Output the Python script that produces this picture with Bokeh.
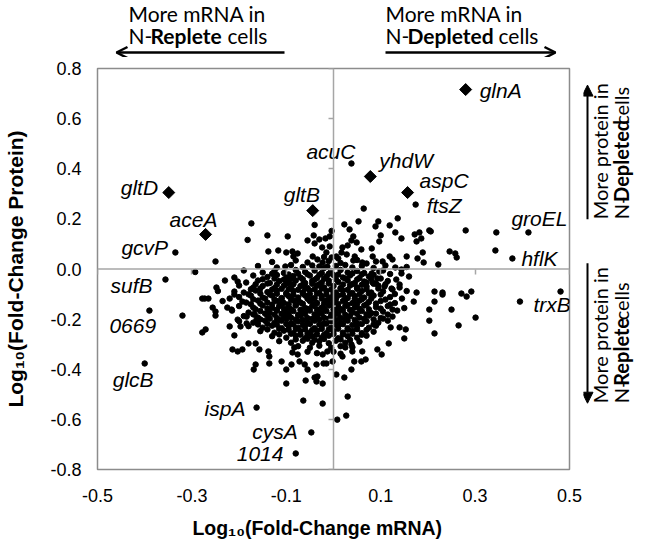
import numpy as np
from bokeh.plotting import figure
from bokeh.layouts import column, row
from bokeh.models import (ColumnDataSource, Span, Label, Arrow, OpenHead, NormalHead,
                          LinearAxis, FixedTicker, NumeralTickFormatter, Range1d)
from bokeh.core.properties import value
from bokeh.embed import file_html
from bokeh.resources import INLINE

# ---------------- data ----------------
x_ticks = [-0.5, -0.3, -0.1, 0.1, 0.3, 0.5]
y_ticks = [-0.8, -0.6, -0.4, -0.2, 0.0, 0.2, 0.4, 0.6, 0.8]

# highlighted genes (diamonds)
dia_gene = ["glnA", "yhdW", "aspC", "gltB", "gltD", "aceA"]
dia_x = [0.280, 0.078, 0.157, -0.044, -0.349, -0.271]
dia_y = [0.716, 0.369, 0.305, 0.233, 0.305, 0.138]

# labelled genes drawn as ordinary dots
lab_gene = ["acuC", "ftsZ", "groEL", "hflK", "gcvP", "sufB", "0669", "glcB",
            "ispA", "cysA", "1014", "trxB"]
lab_x = [0.038, 0.174, 0.413, 0.379, -0.335, -0.356, -0.390, -0.400,
         -0.163, -0.047, -0.080, 0.481]
lab_y = [0.421, 0.257, 0.146, 0.042, 0.066, -0.042, -0.166, -0.377,
         -0.553, -0.652, -0.736, -0.090]

upper_left_pts = [
    (-0.174, 0.182), (-0.182, 0.116), (-0.140, 0.134), (-0.097, 0.130), (-0.040, 0.176),
    (-0.055, 0.114), (-0.042, 0.134), (-0.040, 0.102), (-0.030, 0.118), (-0.017, 0.122),
    (-0.008, 0.130), (-0.004, 0.152), (-0.138, 0.070), (-0.117, 0.074), (-0.100, 0.066),
    (-0.087, 0.070), (-0.076, 0.062), (-0.085, 0.050), (-0.250, 0.030), (-0.293, -0.012),
    (-0.102, 0.010), (-0.044, 0.050), (-0.034, 0.038), (-0.023, 0.026), (-0.013, 0.010),
    (-0.030, 0.010), (-0.015, 0.066), (-0.004, 0.046), (-0.024, 0.086), (-0.008, 0.090),
    (-0.203, -0.050), (-0.248, -0.074), (-0.210, -0.090), (-0.220, -0.118), (-0.273, -0.118),
]
upper_right_pts = [
    (0.064, 0.241), (0.023, 0.178), (0.053, 0.190), (0.089, 0.170), (0.095, 0.190),
    (0.119, 0.174), (0.136, 0.202), (0.182, 0.146), (0.203, 0.154), (0.206, 0.150),
    (0.280, 0.154), (0.345, 0.146), (0.172, 0.138), (0.176, 0.110), (0.186, 0.122),
    (0.144, 0.122), (0.131, 0.146), (0.100, 0.134), (0.097, 0.110), (0.034, 0.158),
    (0.038, 0.114), (0.049, 0.106), (0.042, 0.130), (0.019, 0.086), (0.006, 0.050),
    (0.017, 0.066), (0.028, 0.058), (0.030, 0.094), (0.059, 0.078), (0.081, 0.082),
    (0.083, 0.050), (0.061, 0.026), (0.042, 0.034), (0.104, 0.030), (0.119, 0.050),
    (0.125, 0.038), (0.155, 0.050), (0.178, 0.042), (0.189, 0.066), (0.191, 0.026),
    (0.222, 0.018), (0.246, 0.070), (0.258, 0.062), (0.261, 0.046), (0.343, 0.074),
    (0.131, 0.006), (0.144, -0.002), (0.144, -0.018), (0.133, -0.042), (0.140, -0.062),
    (0.097, -0.010), (0.093, -0.038), (0.081, -0.018), (0.083, -0.054), (0.070, -0.054),
    (0.108, -0.070), (0.123, -0.078), (0.176, -0.094), (0.214, -0.090), (0.231, -0.094),
    (0.271, -0.098), (0.292, -0.090), (0.282, -0.110),
]
lower_right_pts = [
    (0.203, -0.162), (0.250, -0.162), (0.301, -0.194), (0.265, -0.225), (0.214, -0.257),
    (0.203, -0.206), (0.214, -0.130), (0.231, -0.102), (0.395, -0.130),
    (0.117, -0.297), (0.102, -0.341), (0.093, -0.321), (0.150, -0.277), (0.153, -0.241),
    (0.140, -0.233), (0.121, -0.233), (0.061, -0.329), (0.068, -0.361), (0.059, -0.369),
    (0.044, -0.369), (0.038, -0.401), (0.023, -0.433), (0.006, -0.421), (-0.002, -0.369),
    (0.019, -0.349), (0.025, -0.313), (0.038, -0.301), (0.040, -0.329),
]
lower_left_pts = [
    (-0.320, -0.186), (-0.278, -0.118), (-0.265, -0.118), (-0.256, -0.154), (-0.250, -0.170),
    (-0.250, -0.186), (-0.278, -0.253), (-0.271, -0.241), (-0.225, -0.154), (-0.216, -0.162),
    (-0.193, -0.130), (-0.210, -0.102), (-0.220, -0.229), (-0.197, -0.229), (-0.184, -0.217),
    (-0.184, -0.190), (-0.203, -0.202), (-0.163, -0.202), (-0.161, -0.209), (-0.167, -0.182),
    (-0.210, -0.265), (-0.214, -0.321), (-0.203, -0.329), (-0.193, -0.321), (-0.180, -0.297),
    (-0.165, -0.297), (-0.157, -0.321), (-0.138, -0.329), (-0.136, -0.349), (-0.136, -0.377),
    (-0.165, -0.381), (-0.169, -0.401), (-0.110, -0.369), (-0.100, -0.401), (-0.089, -0.381),
    (-0.072, -0.369), (-0.061, -0.381), (-0.055, -0.401), (-0.036, -0.381), (-0.034, -0.429),
    (-0.021, -0.377), (-0.015, -0.377), (-0.023, -0.341), (-0.013, -0.329), (-0.100, -0.457),
    (-0.059, -0.445), (-0.040, -0.433), (-0.036, -0.449), (-0.023, -0.457), (-0.087, -0.333),
    (-0.076, -0.341), (-0.083, -0.313), (-0.064, -0.525), (-0.023, -0.537), (0.030, -0.509),
    (0.027, -0.585), (0.008, -0.601),
]
core_pts = [
    (-0.02, 0.048), (0.01, 0.042), (0.045, 0.050),
    (-0.13, 0.028), (-0.08, 0.034), (-0.055, 0.026), (-0.01, 0.032), (0.015, 0.024), (0.05, 0.036),
    (0.07, 0.022), (0.09, 0.030),
    (-0.16, 0.012), (-0.12, 0.006), (-0.09, 0.016), (-0.065, 0.008), (-0.045, 0.014), (-0.02, 0.004),
    (0.005, 0.012), (0.025, 0.016), (0.04, 0.006), (0.06, 0.012), (0.085, 0.004), (0.11, 0.014),
    (0.155, 0.008),
    (-0.19, -0.006), (-0.15, -0.014), (-0.125, -0.008), (-0.105, -0.016), (-0.08, -0.004),
    (-0.06, -0.012), (-0.04, -0.006), (-0.025, -0.016), (-0.005, -0.008), (0.015, -0.004),
    (0.03, -0.014), (0.05, -0.008), (0.065, -0.016), (0.105, -0.006), (0.12, -0.020),
    (-0.21, -0.034), (-0.17, -0.026), (-0.14, -0.032), (-0.12, -0.024), (-0.10, -0.036),
    (-0.085, -0.028), (-0.07, -0.034), (-0.05, -0.026), (-0.035, -0.036), (-0.015, -0.030),
    (0.0, -0.024), (0.02, -0.034), (0.035, -0.026), (0.055, -0.036), (0.075, -0.030),
    (0.10, -0.038), (0.16, -0.030),
    (-0.23, -0.046), (-0.185, -0.054), (-0.16, -0.046), (-0.135, -0.056), (-0.115, -0.048),
    (-0.095, -0.054), (-0.08, -0.046), (-0.06, -0.056), (-0.045, -0.048), (-0.025, -0.054),
    (-0.01, -0.046), (0.01, -0.052), (0.03, -0.046), (0.045, -0.056), (0.065, -0.050),
    (0.09, -0.058), (0.115, -0.048),
    (-0.20, -0.066), (-0.17, -0.074), (-0.15, -0.068), (-0.125, -0.076), (-0.105, -0.066),
    (-0.09, -0.074), (-0.07, -0.068), (-0.055, -0.076), (-0.035, -0.066), (-0.02, -0.074),
    (0.0, -0.068), (0.015, -0.076), (0.035, -0.066), (0.05, -0.074), (0.07, -0.070),
    (0.095, -0.066), (0.14, -0.074),
    (-0.245, -0.088), (-0.19, -0.094), (-0.165, -0.086), (-0.14, -0.092), (-0.12, -0.086),
    (-0.10, -0.096), (-0.085, -0.088), (-0.065, -0.094), (-0.05, -0.086), (-0.03, -0.096),
    (-0.015, -0.088), (0.005, -0.094), (0.02, -0.086), (0.04, -0.096), (0.06, -0.088),
    (0.08, -0.094), (0.105, -0.090), (0.155, -0.088),
    (-0.20, -0.112), (-0.175, -0.106), (-0.15, -0.114), (-0.13, -0.106), (-0.11, -0.116),
    (-0.095, -0.108), (-0.075, -0.114), (-0.06, -0.106), (-0.04, -0.116), (-0.025, -0.108),
    (-0.005, -0.114), (0.01, -0.106), (0.03, -0.116), (0.045, -0.108), (0.065, -0.114),
    (0.085, -0.106), (0.12, -0.112), (0.145, -0.118),
    (-0.235, -0.128), (-0.185, -0.134), (-0.16, -0.126), (-0.14, -0.134), (-0.12, -0.128),
    (-0.105, -0.136), (-0.085, -0.126), (-0.07, -0.134), (-0.05, -0.128), (-0.035, -0.136),
    (-0.015, -0.126), (0.0, -0.134), (0.02, -0.128), (0.04, -0.136), (0.055, -0.126),
    (0.075, -0.132), (0.10, -0.128), (0.13, -0.136), (0.17, -0.130),
    (-0.20, -0.148), (-0.17, -0.154), (-0.15, -0.146), (-0.13, -0.156), (-0.115, -0.148),
    (-0.095, -0.154), (-0.08, -0.146), (-0.06, -0.156), (-0.045, -0.148), (-0.025, -0.154),
    (-0.01, -0.146), (0.01, -0.156), (0.025, -0.148), (0.045, -0.154), (0.065, -0.146),
    (0.09, -0.152), (0.115, -0.148), (0.15, -0.156),
    (-0.215, -0.166), (-0.18, -0.174), (-0.155, -0.168), (-0.135, -0.176), (-0.12, -0.166),
    (-0.10, -0.174), (-0.085, -0.168), (-0.065, -0.176), (-0.05, -0.166), (-0.03, -0.174),
    (-0.015, -0.168), (0.005, -0.176), (0.02, -0.166), (0.04, -0.174), (0.06, -0.168),
    (0.08, -0.176), (0.105, -0.170), (0.135, -0.166),
    (-0.19, -0.188), (-0.16, -0.194), (-0.14, -0.186), (-0.12, -0.196), (-0.105, -0.188),
    (-0.09, -0.194), (-0.07, -0.186), (-0.055, -0.196), (-0.035, -0.188), (-0.02, -0.194),
    (0.0, -0.186), (0.015, -0.196), (0.035, -0.188), (0.055, -0.194), (0.075, -0.186),
    (0.10, -0.196), (0.125, -0.190),
    (-0.20, -0.208), (-0.17, -0.214), (-0.145, -0.206), (-0.125, -0.214), (-0.11, -0.206),
    (-0.09, -0.216), (-0.075, -0.208), (-0.055, -0.214), (-0.04, -0.206), (-0.02, -0.216),
    (-0.005, -0.208), (0.015, -0.214), (0.03, -0.206), (0.05, -0.216), (0.07, -0.208),
    (0.095, -0.214), (0.115, -0.206),
    (-0.18, -0.228), (-0.15, -0.234), (-0.13, -0.226), (-0.11, -0.236), (-0.095, -0.228),
    (-0.075, -0.234), (-0.06, -0.226), (-0.04, -0.236), (-0.025, -0.228), (-0.005, -0.234),
    (0.01, -0.226), (0.03, -0.236), (0.05, -0.228), (0.075, -0.234), (0.09, -0.226),
    (-0.155, -0.248), (-0.125, -0.254), (-0.105, -0.246), (-0.085, -0.256), (-0.07, -0.248),
    (-0.05, -0.254), (-0.035, -0.246), (-0.015, -0.256), (0.0, -0.248), (0.02, -0.254),
    (0.04, -0.246), (0.06, -0.256), (0.085, -0.250),
    (-0.13, -0.268), (-0.10, -0.274), (-0.08, -0.266), (-0.06, -0.276), (-0.045, -0.268),
    (-0.025, -0.274), (-0.01, -0.266), (0.01, -0.276), (0.03, -0.268), (0.05, -0.274),
    (0.07, -0.266),
    (-0.115, -0.288), (-0.09, -0.294), (-0.065, -0.286), (-0.045, -0.294), (-0.03, -0.288),
    (-0.01, -0.296), (0.005, -0.286), (0.025, -0.294), (0.055, -0.290),
    (-0.075, -0.308), (-0.05, -0.314), (-0.03, -0.306), (-0.005, -0.314), (0.015, -0.308),
    (0.04, -0.312),
    (-0.055, -0.330), (-0.035, -0.336), (0.0, -0.330), (0.015, -0.338),
]
core_dense_pts = [
    (-0.13, -0.019), (-0.095, -0.022), (-0.075, -0.018), (-0.055, -0.021), (-0.03, -0.023),
    (-0.01, -0.019), (0.01, -0.022), (0.04, -0.018), (0.06, -0.021), (0.085, -0.023),
    (-0.15, -0.041), (-0.125, -0.038), (-0.105, -0.042), (-0.09, -0.039), (-0.065, -0.041),
    (-0.04, -0.043), (-0.02, -0.039), (0.005, -0.041), (0.025, -0.038), (0.05, -0.042),
    (0.08, -0.040),
    (-0.165, -0.061), (-0.14, -0.058), (-0.12, -0.062), (-0.10, -0.059), (-0.085, -0.061),
    (-0.065, -0.063), (-0.045, -0.059), (-0.03, -0.061), (-0.01, -0.058), (0.02, -0.062),
    (0.04, -0.060), (0.06, -0.063), (0.085, -0.059), (0.11, -0.061),
    (-0.175, -0.081), (-0.155, -0.078), (-0.13, -0.082), (-0.11, -0.079), (-0.095, -0.081),
    (-0.075, -0.083), (-0.06, -0.079), (-0.04, -0.081), (-0.025, -0.078), (-0.005, -0.082),
    (0.015, -0.080), (0.03, -0.083), (0.05, -0.079), (0.07, -0.081), (0.095, -0.078),
    (0.125, -0.082),
    (-0.18, -0.101), (-0.155, -0.098), (-0.135, -0.102), (-0.12, -0.099), (-0.10, -0.101),
    (-0.085, -0.103), (-0.065, -0.099), (-0.05, -0.101), (-0.035, -0.098), (-0.015, -0.102),
    (0.0, -0.100), (0.02, -0.103), (0.035, -0.099), (0.055, -0.101), (0.075, -0.098),
    (0.10, -0.102), (0.13, -0.100),
    (-0.17, -0.121), (-0.145, -0.118), (-0.125, -0.122), (-0.11, -0.119), (-0.09, -0.121),
    (-0.075, -0.123), (-0.055, -0.119), (-0.045, -0.121), (-0.025, -0.118), (-0.01, -0.122),
    (0.005, -0.120), (0.025, -0.123), (0.045, -0.119), (0.06, -0.121), (0.08, -0.118),
    (0.11, -0.122),
    (-0.175, -0.141), (-0.155, -0.138), (-0.13, -0.142), (-0.11, -0.139), (-0.095, -0.141),
    (-0.08, -0.143), (-0.065, -0.139), (-0.04, -0.141), (-0.02, -0.138), (-0.005, -0.142),
    (0.01, -0.140), (0.03, -0.143), (0.05, -0.139), (0.07, -0.141), (0.09, -0.138),
    (0.12, -0.142),
    (-0.165, -0.161), (-0.14, -0.158), (-0.12, -0.162), (-0.105, -0.159), (-0.09, -0.161),
    (-0.07, -0.163), (-0.055, -0.159), (-0.035, -0.161), (-0.02, -0.158), (0.0, -0.162),
    (0.015, -0.160), (0.035, -0.163), (0.055, -0.159), (0.075, -0.161), (0.10, -0.158),
    (0.125, -0.162),
    (-0.17, -0.181), (-0.145, -0.178), (-0.125, -0.182), (-0.11, -0.179), (-0.095, -0.181),
    (-0.075, -0.183), (-0.06, -0.179), (-0.04, -0.181), (-0.025, -0.178), (-0.005, -0.182),
    (0.01, -0.180), (0.025, -0.183), (0.05, -0.179), (0.07, -0.181), (0.09, -0.178),
    (0.115, -0.182),
    (-0.155, -0.201), (-0.135, -0.198), (-0.115, -0.202), (-0.10, -0.199), (-0.08, -0.201),
    (-0.065, -0.203), (-0.045, -0.199), (-0.03, -0.201), (-0.01, -0.198), (0.005, -0.202),
    (0.025, -0.200), (0.045, -0.203), (0.065, -0.199), (0.085, -0.201), (0.105, -0.198),
    (-0.16, -0.221), (-0.14, -0.218), (-0.12, -0.222), (-0.10, -0.219), (-0.085, -0.221),
    (-0.065, -0.223), (-0.05, -0.219), (-0.03, -0.221), (-0.015, -0.218), (0.005, -0.222),
    (0.02, -0.220), (0.04, -0.223), (0.06, -0.219), (0.085, -0.221),
    (-0.14, -0.241), (-0.115, -0.238), (-0.095, -0.242), (-0.08, -0.239), (-0.06, -0.241),
    (-0.045, -0.243), (-0.025, -0.239), (-0.01, -0.241), (0.01, -0.238), (0.03, -0.242),
    (0.05, -0.240), (0.07, -0.243),
    (-0.115, -0.261), (-0.09, -0.258), (-0.07, -0.262), (-0.055, -0.259), (-0.035, -0.261),
    (-0.02, -0.263), (0.0, -0.259), (0.02, -0.261), (0.04, -0.258), (0.06, -0.262),
    (-0.08, -0.281), (-0.055, -0.278), (-0.04, -0.282), (-0.02, -0.279), (0.015, -0.281),
    (0.035, -0.283),
]

# ---------------- layout constants ----------------
XR, YR = (-0.5, 0.5), (-0.8, 0.8)
FW, FH = 472, 401
OFF = 1               # picture offset of the layout origin
TOP_H = 57            # band with the horizontal arrows
MAIN_W = 583
RIGHT_W = 634 - MAIN_W
MAIN_H = 541 - TOP_H
BL, BT = 97, 11       # main-frame left / top borders
AX_FONT = "Liberation Sans"
ANN_FONT = "Lato"
GRAY = "#8c8c8c"
ZERO = "#a6a6a6"

p = figure(width=MAIN_W, height=MAIN_H, x_range=Range1d(*XR), y_range=Range1d(*YR),
           output_backend="svg", toolbar_location=None,
           min_border_left=BL, min_border_top=BT, min_border_right=MAIN_W - BL - FW,
           min_border_bottom=MAIN_H - BT - FH,
           background_fill_color="white", border_fill_color="white")
p.grid.visible = False
p.outline_line_color = GRAY
p.outline_line_width = 1.5

for ax in (p.xaxis[0], p.yaxis[0]):
    ax.axis_line_color = None
    ax.major_tick_line_color = None
    ax.minor_tick_line_color = None
    ax.major_tick_in = 0
    ax.major_tick_out = 0
    ax.major_label_text_font = AX_FONT
    ax.major_label_text_font_size = "18px"
    ax.major_label_text_color = "black"
    ax.axis_label_text_font = AX_FONT
    ax.axis_label_text_font_style = "bold"
    ax.axis_label_text_color = "black"
    ax.formatter = NumeralTickFormatter(format="0.0")

p.xaxis.ticker = FixedTicker(ticks=x_ticks)
p.yaxis.ticker = FixedTicker(ticks=y_ticks)
p.xaxis.axis_label = "Log\u2081\u2080(Fold-Change mRNA)" + "\u00a0" * 6
p.yaxis.axis_label = "Log\u2081\u2080(Fold-Change Protein)"
p.xaxis.axis_label_text_font_size = "19.5px"
p.yaxis.axis_label_text_font_size = "21px"
p.xaxis.major_label_standoff = 19
p.yaxis.major_label_standoff = 16
p.xaxis.axis_label_standoff = 12
p.yaxis.axis_label_standoff = 20

# zero lines with tick marks (axes pinned at 0, labels blanked)
p.add_layout(Span(location=0, dimension="height", line_color=ZERO, line_width=1.5))
p.add_layout(Span(location=0, dimension="width", line_color=ZERO, line_width=1.5))
for ticks, side in ((x_ticks, "below"), (y_ticks, "left")):
    a = LinearAxis(fixed_location=0, ticker=FixedTicker(ticks=ticks),
                   major_label_overrides={t: "" for t in ticks}, axis_line_color=None,
                   major_tick_line_color=ZERO, major_tick_line_width=1.5,
                   major_tick_in=0, major_tick_out=5, minor_tick_line_color=None)
    p.add_layout(a, side)

all_pts = (core_pts + core_dense_pts + upper_left_pts + upper_right_pts
           + lower_right_pts + lower_left_pts)
dots = ColumnDataSource(dict(x=[q[0] for q in all_pts], y=[q[1] for q in all_pts]))
p.scatter("x", "y", source=dots, size=5.5, color="black")

lab_dx = [-45, 11, -17, 9, -54, -55, -40, -32, -52, -59, -59, -27]
lab_dy = [-12, 1, -14, 0, -5, 6, 15, 16, 1, -1, 1, 13]
lab_src = ColumnDataSource(dict(x=lab_x, y=lab_y, gene=lab_gene, dx=lab_dx, dy=lab_dy))
p.scatter("x", "y", source=lab_src, size=5.5, color="black")

dia_dx = [14, 9, 12, -29, -48, -36]
dia_dy = [1, -16, -12, -16, -5, -15]
dia_src = ColumnDataSource(dict(x=dia_x, y=dia_y, gene=dia_gene, dx=dia_dx, dy=dia_dy))
p.scatter("x", "y", source=dia_src, marker="square", angle=np.pi / 4, size=8.5,
          color="black")

for src in (lab_src, dia_src):
    p.text("x", "y", text="gene", source=src, x_offset="dx", y_offset="dy",
           text_font=value(AX_FONT), text_font_style="italic", text_font_size="21px",
           text_align="left", text_baseline="middle", text_color="black")


# ---------------- annotation bands (coordinates = picture pixels, y negated) ----------------
def band(w, h, x0, y0):
    f = figure(width=w, height=h, x_range=Range1d(x0, x0 + w), y_range=Range1d(-(y0 + h), -y0),
               output_backend="svg", toolbar_location=None, min_border=0,
               x_axis_type=None, y_axis_type=None)
    f.grid.visible = False
    f.outline_line_color = None
    return f


top = band(634, TOP_H, OFF, OFF)
right = band(RIGHT_W, MAIN_H, OFF + MAIN_W, OFF + TOP_H)


def lab(fig, x, y, t, bold=False, angle=0, size="21px"):
    fig.add_layout(Label(x=x, y=-y, text=t, text_font=ANN_FONT, text_font_size=size,
                         text_font_style="bold" if bold else "normal",
                         text_align="left", text_baseline="middle", text_color="black",
                         angle=angle, angle_units="deg"))


L1, L2, AY = 14, 36, 53
lab(top, 129, L1, "More mRNA in")
lab(top, 129, L2, "N-")
lab(top, 151, L2, "Replete", bold=True)
lab(top, 228, L2, "cells")
lab(top, 386, L1, "More mRNA in")
lab(top, 386, L2, "N-")
lab(top, 408, L2, "Depleted", bold=True)
lab(top, 499, L2, "cells")
top.add_layout(Arrow(x_start=285, y_start=-AY, x_end=117, y_end=-AY,
                     line_width=2.5, end=OpenHead(size=11, line_width=2.5)))
top.add_layout(Arrow(x_start=386, y_start=-AY, x_end=556, y_end=-AY,
                     line_width=2.5, end=OpenHead(size=11, line_width=2.5)))

up0, lo0 = 240, 462
C1, C2, AX = 600, 621, 588
RS = "20px"
lab(right, C1, up0, "More protein in", angle=90, size=RS)
lab(right, C2, up0, "N-", angle=90, size=RS)
lab(right, C2, up0 - 21, "Depleted", bold=True, angle=90, size=RS)
lab(right, C2, up0 - 114, "cells", angle=90, size=RS)
lab(right, C1, lo0, "More protein in", angle=90, size=RS)
lab(right, C2, lo0, "N-", angle=90, size=RS)
lab(right, C2, lo0 - 21, "Replete", bold=True, angle=90, size=RS)
lab(right, C2, lo0 - 100, "cells", angle=90, size=RS)
right.add_layout(Arrow(x_start=AX, y_start=-240, x_end=AX, y_end=-78, line_width=2,
                       end=NormalHead(size=11, fill_color="black", line_color="black")))
right.add_layout(Arrow(x_start=AX, y_start=-293, x_end=AX, y_end=-462, line_width=2,
                       end=NormalHead(size=11, fill_color="black", line_color="black")))

layout = column(top, row(p, right, spacing=0), spacing=0)
open("out.html", "w").write(file_html(layout, INLINE))
